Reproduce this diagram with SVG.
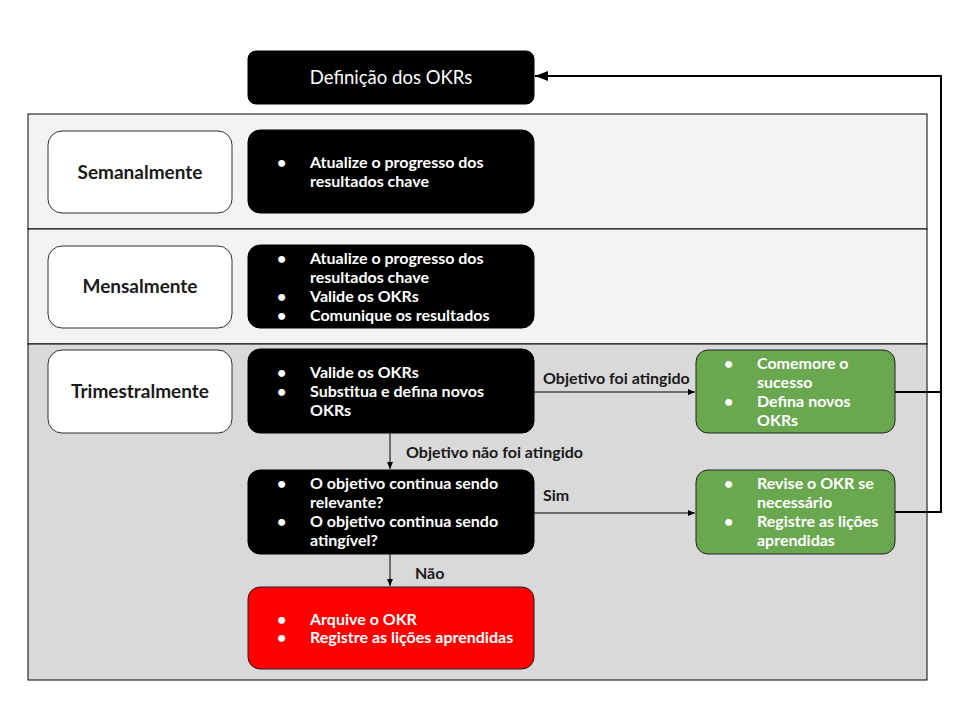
<svg xmlns="http://www.w3.org/2000/svg" width="960" height="720" viewBox="0 0 960 720">
<style>
text{font-family:Lato,"Open Sans","Liberation Sans",sans-serif;}
.lst{font-size:16px;font-weight:bold;fill:#ffffff;}
.lbl{font-size:19px;font-weight:bold;fill:#1a1a1a;text-anchor:middle;}
.el{font-size:16px;font-weight:bold;fill:#1a1a1a;}
.blk{fill:#000000;stroke:#000000;stroke-width:1;}
.per{fill:#ffffff;stroke:#333333;stroke-width:1;}
.grn{fill:#6aa84f;stroke:#222222;stroke-width:1;}
.red{fill:#ff0000;stroke:#222222;stroke-width:1;}
.c{fill:none;stroke:#000000;stroke-width:1;}
.ct{fill:none;stroke:#000000;stroke-width:2;}
</style>
<defs>
<marker id="a" markerWidth="8" markerHeight="8" refX="7" refY="4" orient="auto" markerUnits="userSpaceOnUse">
<path d="M0,1 L7,4 L0,7 Z" fill="#000"/>
</marker>
<marker id="b" markerWidth="14" markerHeight="12" refX="13" refY="6" orient="auto" markerUnits="userSpaceOnUse">
<path d="M0,1 L13,6 L0,11 Z" fill="#000"/>
</marker>
</defs>
<rect width="960" height="720" fill="#ffffff"/>
<g id="bands">
<rect x="28" y="114" width="899" height="115" fill="#f3f3f3" stroke="#000" stroke-width="1"/>
<rect x="28" y="229" width="899" height="115" fill="#f3f3f3" stroke="#000" stroke-width="1"/>
<rect x="28" y="344" width="899" height="336" fill="#d9d9d9" stroke="#000" stroke-width="1"/>
</g>
<g id="connectors">
<path class="c" d="M534,392 H695" marker-end="url(#a)"/>
<path class="c" d="M390,433 V469" marker-end="url(#a)"/>
<path class="c" d="M534,513 H695" marker-end="url(#a)"/>
<path class="c" d="M390,554 V586" marker-end="url(#a)"/>
<path class="ct" d="M895,392 H941"/>
<path class="ct" d="M895,512 H941 V76 H535" marker-end="url(#b)"/>
<text class="el" x="543" y="384">Objetivo foi atingido</text>
<text class="el" x="406" y="458">Objetivo não foi atingido</text>
<text class="el" x="543" y="501">Sim</text>
<text class="el" x="415" y="579">Não</text>
</g>
<g id="definicao">
<rect class="blk" x="248" y="51" width="286" height="53" rx="8"/>
<text x="391" y="84" font-size="18.5" fill="#ffffff" text-anchor="middle">Definição dos OKRs</text>
</g>
<g id="semanalmente">
<rect class="per" x="48" y="131" width="184" height="82" rx="14"/>
<text class="lbl" x="140" y="179">Semanalmente</text>
</g>
<g id="semanal-tarefas">
<rect class="blk" x="248" y="130" width="286" height="83" rx="12"/>
<text class="lst"><tspan x="277" y="168">•</tspan><tspan x="310" y="168">Atualize o progresso dos</tspan><tspan x="310" y="187">resultados chave</tspan></text>
</g>
<g id="mensalmente">
<rect class="per" x="48" y="246" width="184" height="82" rx="14"/>
<text class="lbl" x="140" y="293">Mensalmente</text>
</g>
<g id="mensal-tarefas">
<rect class="blk" x="248" y="245" width="286" height="83" rx="12"/>
<text class="lst"><tspan x="277" y="264">•</tspan><tspan x="310" y="264">Atualize o progresso dos</tspan><tspan x="310" y="283">resultados chave</tspan><tspan x="277" y="302">•</tspan><tspan x="310" y="302">Valide os OKRs</tspan><tspan x="277" y="321">•</tspan><tspan x="310" y="321">Comunique os resultados</tspan></text>
</g>
<g id="trimestralmente">
<rect class="per" x="48" y="350" width="184" height="83" rx="14"/>
<text class="lbl" x="140" y="398">Trimestralmente</text>
</g>
<g id="trimestral-tarefas">
<rect class="blk" x="248" y="349" width="286" height="84" rx="12"/>
<text class="lst"><tspan x="277" y="378">•</tspan><tspan x="310" y="378">Valide os OKRs</tspan><tspan x="277" y="397">•</tspan><tspan x="310" y="397">Substitua e defina novos</tspan><tspan x="310" y="416">OKRs</tspan></text>
</g>
<g id="sucesso">
<rect class="grn" x="696" y="350" width="199" height="83" rx="12"/>
<text class="lst"><tspan x="724" y="369">•</tspan><tspan x="757" y="369">Comemore o</tspan><tspan x="757" y="388">sucesso</tspan><tspan x="724" y="407">•</tspan><tspan x="757" y="407">Defina novos</tspan><tspan x="757" y="426">OKRs</tspan></text>
</g>
<g id="pergunta">
<rect class="blk" x="248" y="470" width="286" height="84" rx="12"/>
<text class="lst"><tspan x="277" y="489">•</tspan><tspan x="310" y="489">O objetivo continua sendo</tspan><tspan x="310" y="508">relevante?</tspan><tspan x="277" y="527">•</tspan><tspan x="310" y="527">O objetivo continua sendo</tspan><tspan x="310" y="546">atingível?</tspan></text>
</g>
<g id="revisar">
<rect class="grn" x="696" y="470" width="199" height="84" rx="12"/>
<text class="lst"><tspan x="724" y="489">•</tspan><tspan x="757" y="489">Revise o OKR se</tspan><tspan x="757" y="508">necessário</tspan><tspan x="724" y="527">•</tspan><tspan x="757" y="527">Registre as lições</tspan><tspan x="757" y="546">aprendidas</tspan></text>
</g>
<g id="arquivar">
<rect class="red" x="248" y="587" width="286" height="82" rx="12"/>
<text class="lst"><tspan x="277" y="625">•</tspan><tspan x="310" y="625">Arquive o OKR</tspan><tspan x="277" y="643">•</tspan><tspan x="310" y="643">Registre as lições aprendidas</tspan></text>
</g>
</svg>
